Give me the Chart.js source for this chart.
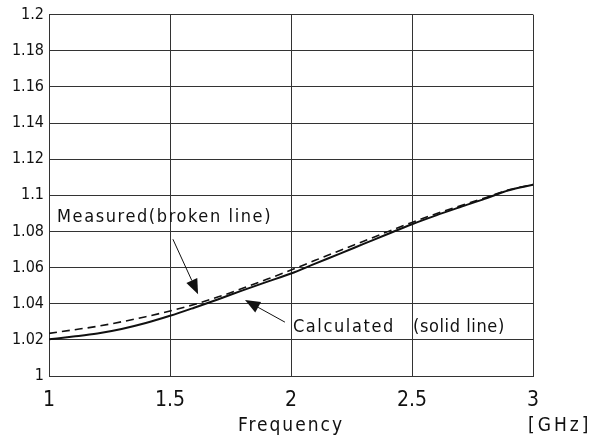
<!DOCTYPE html>
<html><head><meta charset="utf-8">
<script src="https://cdn.jsdelivr.net/npm/chart.js@4"></script>
<style>html,body{margin:0;padding:0;background:#fff}#wrap{width:601px;height:438px}</style>
</head><body><div id="wrap"><canvas id="c" width="601" height="438"></canvas></div>
<script>
const frequency = [1.0,1.1,1.2,1.3,1.4,1.5,1.6,1.7,1.8,1.9,2.0,2.1,2.2,2.3,2.4,2.5,2.6,2.7,2.8,2.9,3.0];
const calculated = [1.0203,1.0218,1.0235,1.0260,1.0293,1.0333,1.0378,1.0425,1.0474,1.0521,1.0567,1.0622,1.0676,1.0731,1.0786,1.0840,1.0889,1.0935,1.0980,1.1028,1.1058];
const measured = [1.0236,1.0255,1.0275,1.0300,1.0328,1.0360,1.0396,1.0438,1.0485,1.0535,1.0586,1.0640,1.0693,1.0746,1.0799,1.0850,1.0898,1.0942,1.0985,1.1030,1.1060];
const xTicks = [1,1.5,2,2.5,3];
const yTicks = [1,1.02,1.04,1.06,1.08,1.1,1.12,1.14,1.16,1.18,1.2];
const measuredLabel = "Measured(broken line)";
const calculatedLabel = "Calculated";
const calculatedLabel2 = "(solid line)";
const xTitle = "Frequency";
const unitLabel = "[GHz]";

const FONT = "'DejaVu Sans Condensed','Liberation Sans Narrow',sans-serif";

const annot = {
  id:'annot',
  afterDraw(chart){
    const ctx = chart.ctx, xs = chart.scales.x, ys = chart.scales.y;
    const px = v => xs.getPixelForValue(v), py = v => ys.getPixelForValue(v);
    ctx.save();
    ctx.fillStyle = '#111'; ctx.strokeStyle = '#111';
    ctx.textBaseline = 'middle'; ctx.textAlign = 'left';
    ctx.font = '18px ' + FONT;
    ctx.letterSpacing = '1.6px';
    ctx.fillText(measuredLabel, px(1.033), py(1.0876));
    ctx.fillText(calculatedLabel, px(2.008), py(1.0271));
    ctx.letterSpacing = '0.6px';
    ctx.fillText(calculatedLabel2, px(2.504), py(1.0271));
    function arrow(x0,y0,x1,y1){
      const a = Math.atan2(y1-y0, x1-x0), L = 15, W = 6;
      const bx = x1 - L*Math.cos(a), by = y1 - L*Math.sin(a);
      ctx.lineWidth = 1;
      ctx.beginPath(); ctx.moveTo(x0,y0); ctx.lineTo(bx,by); ctx.stroke();
      ctx.beginPath(); ctx.moveTo(x1,y1);
      ctx.lineTo(bx + W*Math.sin(a), by - W*Math.cos(a));
      ctx.lineTo(bx - W*Math.sin(a), by + W*Math.cos(a));
      ctx.closePath(); ctx.fill();
    }
    arrow(px(1.512), py(1.0757), px(1.616), py(1.0453));
    arrow(px(1.975), py(1.0298), px(1.810), py(1.042));
    ctx.font = '19px ' + FONT;
    ctx.letterSpacing = '2px';
    ctx.textAlign = 'center';
    ctx.fillText(xTitle, (xs.left+xs.right)/2, 426);
    ctx.textAlign = 'left';
    ctx.letterSpacing = '3px';
    ctx.fillText(unitLabel, 528, 426);
    ctx.restore();
  }
};

new Chart(document.getElementById('c'), {
  type: 'line',
  data: {
    datasets: [
      {label:'Calculated', data: frequency.map((f,i)=>({x:f,y:calculated[i]})), borderColor:'#111', borderWidth:2, pointRadius:0, fill:false, cubicInterpolationMode:'monotone'},
      {label:'Measured', data: frequency.map((f,i)=>({x:f,y:measured[i]})), borderColor:'#111', borderWidth:1.6, borderDash:[8,5], pointRadius:0, fill:false, cubicInterpolationMode:'monotone'}
    ]
  },
  options: {
    responsive:false, animation:false, devicePixelRatio:1,
    layout:{padding:{top:14,right:68,bottom:0,left:0}},
    plugins:{legend:{display:false}, tooltip:{enabled:false}},
    scales:{
      x:{type:'linear', min:1, max:3,
        afterBuildTicks(s){ s.ticks = xTicks.map(v=>({value:v})); },
        afterFit(s){ s.height = 62; },
        grid:{color:'#333', lineWidth:1, drawTicks:false},
        border:{color:'#333', width:1},
        ticks:{color:'#111', padding:12, maxRotation:0, font:{family:FONT, size:21}, callback:v=>String(v)}
      },
      y:{type:'linear', min:1, max:1.2,
        afterBuildTicks(s){ s.ticks = yTicks.map(v=>({value:v})); },
        afterFit(s){ s.width = 49; },
        grid:{color:'#333', lineWidth:1, drawTicks:false},
        border:{color:'#333', width:1},
        ticks:{color:'#111', padding:5, font:{family:FONT, size:16}, callback:v=>String(+v.toFixed(2))}
      }
    }
  },
  plugins:[annot]
});
</script></body></html>
